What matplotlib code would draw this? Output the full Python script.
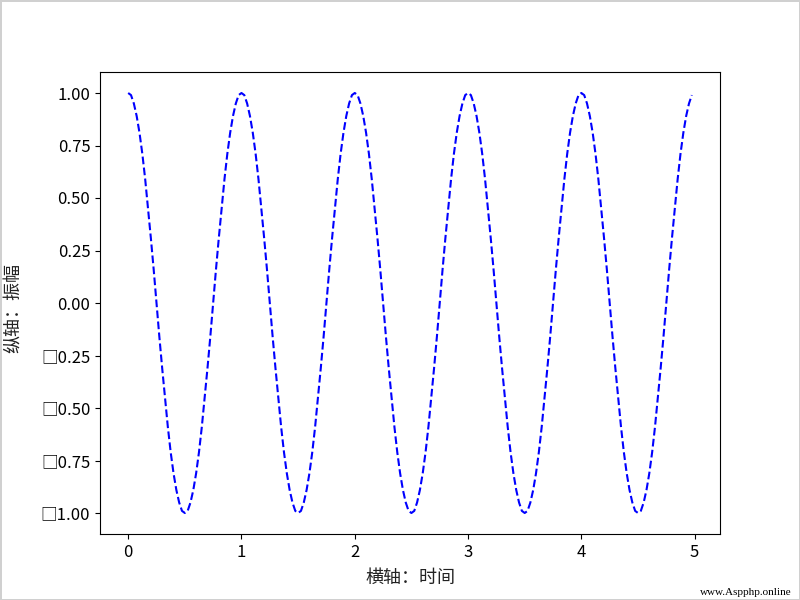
import numpy as np
import matplotlib
matplotlib.use('Agg')
import matplotlib.pyplot as plt
from matplotlib.ticker import FuncFormatter

plt.rcParams['font.family'] = ['Noto Sans CJK SC', 'DejaVu Sans']

# 时间 (0 ~ 4.975, 间隔 0.025)
t = np.round(np.arange(0, 4.98, 0.025), 3)

# 振幅 (从图上读出来的, 一行半个周期)
amp = [
    1.00, 0.99, 0.95, 0.89, 0.81, 0.71, 0.59, 0.45, 0.31, 0.16, 0.00, -0.16, -0.31, -0.45, -0.59, -0.71, -0.81, -0.89, -0.95, -0.99,
    -1.00, -0.99, -0.95, -0.89, -0.81, -0.71, -0.59, -0.45, -0.31, -0.16, 0.00, 0.16, 0.31, 0.45, 0.59, 0.71, 0.81, 0.89, 0.95, 0.99,
    1.00, 0.99, 0.95, 0.89, 0.81, 0.71, 0.59, 0.45, 0.31, 0.16, 0.00, -0.16, -0.31, -0.45, -0.59, -0.71, -0.81, -0.89, -0.95, -0.99,
    -1.00, -0.99, -0.95, -0.89, -0.81, -0.71, -0.59, -0.45, -0.31, -0.16, 0.00, 0.16, 0.31, 0.45, 0.59, 0.71, 0.81, 0.89, 0.95, 0.99,
    1.00, 0.99, 0.95, 0.89, 0.81, 0.71, 0.59, 0.45, 0.31, 0.16, 0.00, -0.16, -0.31, -0.45, -0.59, -0.71, -0.81, -0.89, -0.95, -0.99,
    -1.00, -0.99, -0.95, -0.89, -0.81, -0.71, -0.59, -0.45, -0.31, -0.16, 0.00, 0.16, 0.31, 0.45, 0.59, 0.71, 0.81, 0.89, 0.95, 0.99,
    1.00, 0.99, 0.95, 0.89, 0.81, 0.71, 0.59, 0.45, 0.31, 0.16, 0.00, -0.16, -0.31, -0.45, -0.59, -0.71, -0.81, -0.89, -0.95, -0.99,
    -1.00, -0.99, -0.95, -0.89, -0.81, -0.71, -0.59, -0.45, -0.31, -0.16, 0.00, 0.16, 0.31, 0.45, 0.59, 0.71, 0.81, 0.89, 0.95, 0.99,
    1.00, 0.99, 0.95, 0.89, 0.81, 0.71, 0.59, 0.45, 0.31, 0.16, 0.00, -0.16, -0.31, -0.45, -0.59, -0.71, -0.81, -0.89, -0.95, -0.99,
    -1.00, -0.99, -0.95, -0.89, -0.81, -0.71, -0.59, -0.45, -0.31, -0.16, 0.00, 0.16, 0.31, 0.45, 0.59, 0.71, 0.81, 0.89, 0.95, 0.99,
]

fig = plt.figure(figsize=(8, 6), dpi=100)
# 原图四周有一圈浅灰色边框
fig.patch.set_edgecolor('#d0d0d0')
fig.patch.set_linewidth(2)
ax = fig.add_subplot(111)
ax.plot(t, amp, 'b--')

ax.set_yticks([1.0, 0.75, 0.5, 0.25, 0.0, -0.25, -0.5, -0.75, -1.0])
# 原图里负号显示成了方框
ax.yaxis.set_major_formatter(FuncFormatter(lambda v, p: '%.2f' % v if v >= 0 else '\u25a1%.2f' % abs(v)))

ax.set_xlabel('横轴：时间', fontsize=13, labelpad=6, color='#222222')
ax.set_ylabel('纵轴：振幅', fontsize=13, color='#222222')
ax.yaxis.set_label_coords(-0.124, 0.49)
ax.tick_params(labelsize=12)

fig.text(0.99, 0.005, 'www.Aspphp.online', ha='right', va='bottom', fontsize=8,
         family=['Liberation Serif'])

fig.savefig('out.png', edgecolor=fig.get_edgecolor())
